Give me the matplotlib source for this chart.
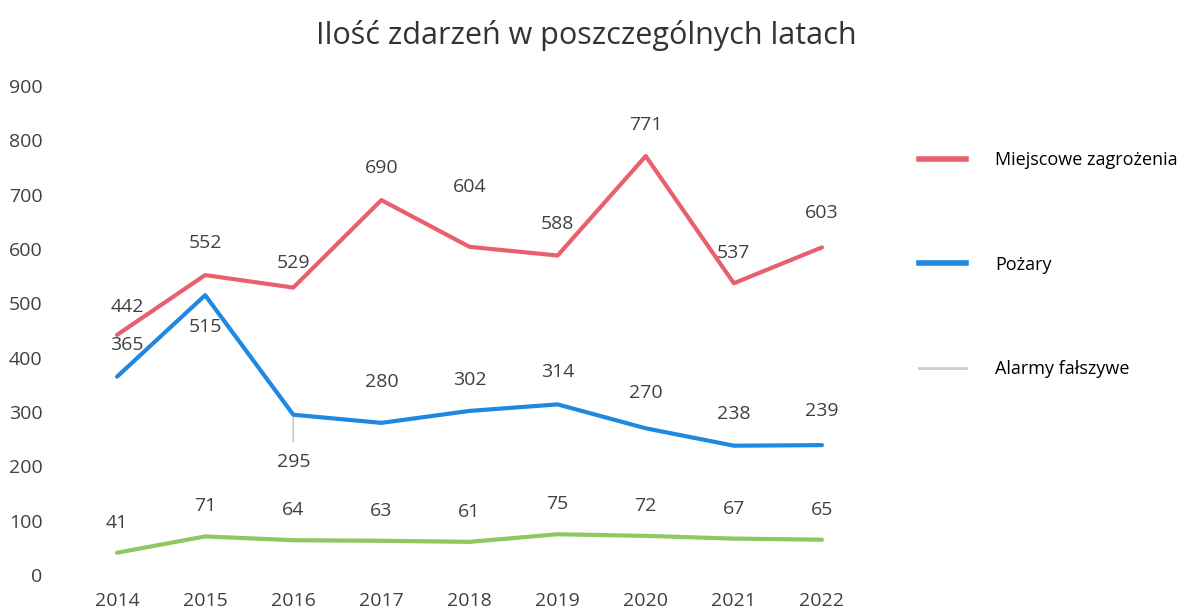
import matplotlib.pyplot as plt
from matplotlib.lines import Line2D

plt.rcParams['font.family'] = ['Open Sans', 'DejaVu Sans']

# data
years = ['2014', '2015', '2016', '2017', '2018', '2019', '2020', '2021', '2022']
miejscowe = [442, 552, 529, 690, 604, 588, 771, 537, 603]
pozary = [365, 515, 295, 280, 302, 314, 270, 238, 239]
alarmy = [41, 71, 64, 63, 61, 75, 72, 67, 65]

# label offsets in pixels (dx, dy)
off_red = [(10, 28), (0, 32), (0, 25), (0, 32), (0, 60), (0, 32), (0, 31), (0, 30), (0, 34)]
off_blue = [(10, 32), (0, -32), (0, -47), (0, 41), (0, 31), (0, 32), (0, 35), (0, 32), (0, 34)]
off_green = [(0, 30)] * 9

red = '#e8606f'
blue = '#1f88e0'
green = '#8dc860'
txt = '#404040'

fig = plt.figure(figsize=(11.79, 6.12), dpi=100)
ax = fig.add_axes([73 / 1179, 37 / 612, 793 / 1179, 489 / 612])
x = list(range(len(years)))

for vals, col, offs in [(miejscowe, red, off_red), (pozary, blue, off_blue), (alarmy, green, off_green)]:
    ax.plot(x, vals, color=col, lw=3, solid_capstyle='round', solid_joinstyle='round')
    for xi, v, (dx, dy) in zip(x, vals, offs):
        ax.annotate(str(v), (xi, v), xytext=(dx, dy), textcoords='offset pixels',
                    ha='center', va='center', fontsize=14, color=txt)

# leader line for 2016 fires
ax.annotate('', (2, pozary[2]), xytext=(0, -30), textcoords='offset pixels',
            arrowprops=dict(arrowstyle='-', color='#c0c0c0', lw=1))

ax.set_xlim(-0.5, 8.5)
ax.set_ylim(0, 900)
ax.set_xticks(x)
ax.set_xticklabels(years)
ax.set_yticks(range(0, 901, 100))
ax.tick_params(length=0, labelsize=14, labelcolor=txt)
ax.tick_params(axis='y', pad=22)
ax.tick_params(axis='x', pad=12)
for s in ax.spines.values():
    s.set_visible(False)

fig.text(0.497, 0.942, 'Ilość zdarzeń w poszczególnych latach', ha='center', va='center',
         fontsize=22, color='#333333')

handles = [Line2D([], [], color=red, lw=4),
           Line2D([], [], color=blue, lw=4),
           Line2D([], [], color='#c8ccd4', lw=2)]
fig.legend(handles, ['Miejscowe zagrożenia', 'Pożary', 'Alarmy fałszywe'],
           loc='upper left', bbox_to_anchor=(903 / 1179, 0.780), frameon=False,
           fontsize=13, handlelength=2.6, handletextpad=1.6, labelspacing=4.8)

fig.savefig('out.png', dpi=100, facecolor='white')
